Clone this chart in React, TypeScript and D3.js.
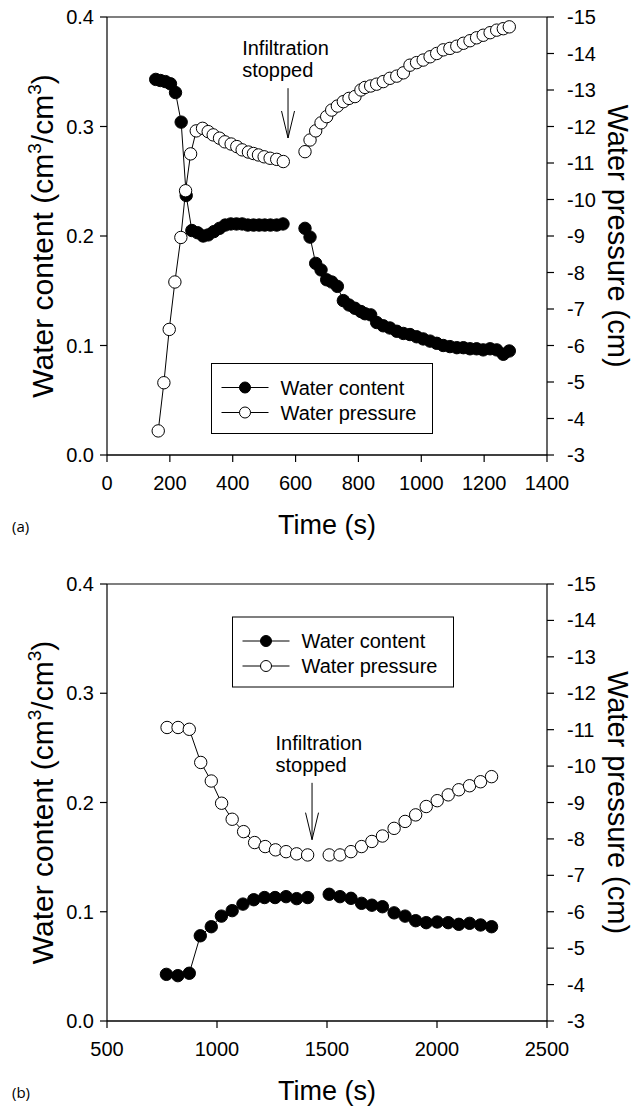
import React from "react";
import * as d3 from "d3";

// ---------- Panel (a) data ----------
const aContentTimeBefore = [155,170,186,202,218,236,252,270,288,306,322,340,358,376,394,412,430,448,466,484,502,520,540,560];
const aContentBefore = [0.343,0.342,0.341,0.339,0.331,0.304,0.237,0.205,0.203,0.200,0.201,0.204,0.207,0.210,0.211,0.211,0.211,0.210,0.210,0.210,0.210,0.210,0.210,0.211];
const aPressureTimeBefore = [163,181,198,216,235,250,266,284,304,322,338,358,375,395,413,430,450,466,482,500,519,540,561];
const aPressureBefore = [-3.66,-4.98,-6.44,-7.74,-8.96,-10.24,-11.25,-11.88,-11.95,-11.86,-11.77,-11.68,-11.58,-11.52,-11.45,-11.36,-11.30,-11.26,-11.22,-11.17,-11.13,-11.10,-11.04];
const aTimeAfter = [630,646,664,681,699,715,733,752,770,789,808,821,839,858,879,900,922,943,964,985,1006,1028,1049,1070,1091,1113,1134,1155,1176,1197,1219,1240,1261,1280];
const aContentAfter = [0.207,0.199,0.175,0.169,0.160,0.158,0.154,0.141,0.137,0.134,0.131,0.129,0.128,0.121,0.118,0.116,0.113,0.111,0.110,0.108,0.106,0.104,0.102,0.100,0.099,0.098,0.098,0.097,0.097,0.096,0.097,0.096,0.092,0.095];
const aPressureAfter = [-11.31,-11.63,-11.88,-12.10,-12.27,-12.45,-12.56,-12.68,-12.77,-12.82,-13.00,-13.07,-13.11,-13.16,-13.23,-13.32,-13.38,-13.47,-13.68,-13.75,-13.82,-13.91,-14.00,-14.10,-14.14,-14.20,-14.28,-14.35,-14.43,-14.50,-14.57,-14.64,-14.68,-14.73];

// ---------- Panel (b) data ----------
const bContentTimeBefore = [770,822,874,924,974,1020,1069,1118,1167,1216,1264,1314,1362,1412];
const bContentBefore = [0.0427,0.0415,0.0437,0.078,0.0863,0.096,0.101,0.107,0.111,0.113,0.113,0.1138,0.112,0.113];
const bPressureTimeBefore = [773,823,874,926,974,1021,1069,1121,1171,1219,1266,1314,1362,1412];
const bPressureBefore = [-11.06,-11.06,-11.01,-10.10,-9.59,-8.98,-8.54,-8.20,-7.90,-7.79,-7.70,-7.65,-7.59,-7.56];
const bTimeAfter = [1510,1559,1609,1657,1704,1752,1805,1855,1903,1951,2001,2051,2099,2148,2198,2248];
const bContentAfter = [0.116,0.1138,0.1123,0.1077,0.106,0.1046,0.099,0.096,0.0918,0.090,0.0906,0.090,0.0885,0.0894,0.0879,0.0863];
const bPressureAfter = [-7.56,-7.56,-7.65,-7.79,-7.93,-8.08,-8.29,-8.48,-8.66,-8.89,-9.05,-9.21,-9.35,-9.46,-9.57,-9.71];

// ---------- Axes ----------
const contentTicks = [0.0, 0.1, 0.2, 0.3, 0.4];
const pressureTicks = [-3,-4,-5,-6,-7,-8,-9,-10,-11,-12,-13,-14,-15];
const aTimeTicks = [0,200,400,600,800,1000,1200,1400];
const bTimeTicks = [500,1000,1500,2000,2500];
const seriesNames = ["Water content", "Water pressure"];
const annotationLines = ["Infiltration", "stopped"];

const FONT = "'Liberation Sans', Arial, Helvetica, sans-serif";

type Seg = { t: number[]; v: number[] };

function zip(s: Seg) {
  return s.t.map((t, i) => [t, s.v[i]] as [number, number]);
}

function Panel(props: {
  top: number; bottom: number; xDomain: [number, number]; xTicks: number[];
  content: Seg[]; pressure: Seg[];
  legendX: number; legendY: number;
  arrowT: number; arrowTop: number; arrowTip: number; textT: number;
  label: string;
}) {
  const L = 107, R = 547;
  const { top, bottom } = props;
  const x = d3.scaleLinear().domain(props.xDomain).range([L, R]);
  const yc = d3.scaleLinear().domain([0, 0.4]).range([bottom, top]);
  const yp = d3.scaleLinear().domain([-3, -15]).range([bottom, top]);
  const lineC = d3.line<[number, number]>().x(d => x(d[0])).y(d => yc(d[1]));
  const lineP = d3.line<[number, number]>().x(d => x(d[0])).y(d => yp(d[1]));
  const r = 6.2;
  const ax = x(props.arrowT);
  const aTop = yc(props.arrowTop);
  const aTip = yc(props.arrowTip);
  const tx = x(props.textT);
  const lgW = 221, lgH = 70;
  const mid = (L + R) / 2;
  const cy = (top + bottom) / 2;
  return (
    <g fontFamily={FONT} fill="#000">
      {/* frame */}
      <line x1={L} x2={R} y1={top} y2={top} stroke="#000" strokeWidth={1.2} />
      <line x1={L} x2={L} y1={top} y2={bottom} stroke="#000" strokeWidth={1.2} />
      <line x1={R} x2={R} y1={top} y2={bottom} stroke="#000" strokeWidth={1.2} />
      <line x1={L} x2={R} y1={bottom} y2={bottom} stroke="#000" strokeWidth={1.4} />
      {/* left ticks */}
      {contentTicks.map(t => (
        <g key={"c" + t}>
          <line x1={L - 7} x2={L} y1={yc(t)} y2={yc(t)} stroke="#000" strokeWidth={1.2} />
          <text x={L - 13} y={yc(t) + 7} textAnchor="end" fontSize={20}>{t.toFixed(1)}</text>
        </g>
      ))}
      {/* right ticks */}
      {pressureTicks.map(t => (
        <g key={"p" + t}>
          <line x1={R} x2={R + 7} y1={yp(t)} y2={yp(t)} stroke="#000" strokeWidth={1.2} />
          <text x={R + 20} y={yp(t) + 7} textAnchor="start" fontSize={20}>{String(t)}</text>
        </g>
      ))}
      {/* bottom ticks */}
      {props.xTicks.map(t => (
        <g key={"x" + t}>
          <line x1={x(t)} x2={x(t)} y1={bottom} y2={bottom + 7} stroke="#000" strokeWidth={1.2} />
          <text x={x(t)} y={bottom + 35} textAnchor="middle" fontSize={20}>{String(t)}</text>
        </g>
      ))}
      {/* axis titles */}
      <text transform={`translate(53,${cy}) rotate(-90)`} textAnchor="middle" fontSize={30}>
        Water content (cm<tspan dy={-12} fontSize={19}>3</tspan><tspan dy={12}>/cm</tspan><tspan dy={-12} fontSize={19}>3</tspan><tspan dy={12}>)</tspan>
      </text>
      <text transform={`translate(608,${cy}) rotate(90)`} textAnchor="middle" fontSize={29}>
        Water pressure (cm)
      </text>
      <text x={mid} y={bottom + 79} textAnchor="middle" fontSize={27}>Time (s)</text>
      <text x={12} y={bottom + 77} fontFamily="'Open Sans', sans-serif" fontSize={15}>{props.label}</text>

      {/* series: water content */}
      {props.content.map((s, i) => (
        <path key={"lc" + i} d={lineC(zip(s)) || ""} fill="none" stroke="#000" strokeWidth={1} />
      ))}
      {props.content.map((s, i) => zip(s).map((d, j) => (
        <circle key={"mc" + i + "_" + j} cx={x(d[0])} cy={yc(d[1])} r={r} fill="#000" stroke="#000" strokeWidth={1} />
      )))}
      {/* series: water pressure */}
      {props.pressure.map((s, i) => (
        <path key={"lp" + i} d={lineP(zip(s)) || ""} fill="none" stroke="#000" strokeWidth={1} />
      ))}
      {props.pressure.map((s, i) => zip(s).map((d, j) => (
        <circle key={"mp" + i + "_" + j} cx={x(d[0])} cy={yp(d[1])} r={r} fill="#fff" stroke="#000" strokeWidth={1} />
      )))}

      {/* annotation */}
      <text x={tx} y={aTop - 33} fontSize={20}>{annotationLines[0]}</text>
      <text x={tx} y={aTop - 11} fontSize={20}>{annotationLines[1]}</text>
      <line x1={ax} x2={ax} y1={aTop} y2={aTip} stroke="#000" strokeWidth={1} />
      <polyline points={`${ax - 6.5},${aTip - 27} ${ax},${aTip} ${ax + 6.5},${aTip - 27}`} fill="none" stroke="#000" strokeWidth={1} />

      {/* legend */}
      <rect x={props.legendX} y={props.legendY} width={lgW} height={lgH} fill="#fff" stroke="#000" strokeWidth={1} />
      {seriesNames.map((n, i) => {
        const ry = props.legendY + 24 + i * 25;
        return (
          <g key={n}>
            <line x1={props.legendX + 10} x2={props.legendX + 57} y1={ry} y2={ry} stroke="#000" strokeWidth={1} />
            <circle cx={props.legendX + 33.5} cy={ry} r={5.5} fill={i === 0 ? "#000" : "#fff"} stroke="#000" strokeWidth={1} />
            <text x={props.legendX + 69} y={ry + 7} fontSize={20}>{n}</text>
          </g>
        );
      })}
    </g>
  );
}

export default function App() {
  return (
    <svg width={638} height={1108} style={{ position: "absolute", left: 0, top: 0, background: "#fff" }}>
      <rect width={638} height={1108} fill="#fff" />
      <Panel
        top={17} bottom={455} xDomain={[0, 1400]} xTicks={aTimeTicks}
        content={[{ t: aContentTimeBefore, v: aContentBefore }, { t: aTimeAfter, v: aContentAfter }]}
        pressure={[{ t: aPressureTimeBefore, v: aPressureBefore }, { t: aTimeAfter, v: aPressureAfter }]}
        legendX={211.5} legendY={363.5}
        arrowT={576} arrowTop={0.335} arrowTip={0.2895} textT={430}
        label="(a)"
      />
      <Panel
        top={584} bottom={1021} xDomain={[500, 2500]} xTicks={bTimeTicks}
        content={[{ t: bContentTimeBefore, v: bContentBefore }, { t: bTimeAfter, v: bContentAfter }]}
        pressure={[{ t: bPressureTimeBefore, v: bPressureBefore }, { t: bTimeAfter, v: bPressureAfter }]}
        legendX={232.5} legendY={617}
        arrowT={1432} arrowTop={0.218} arrowTip={0.166} textT={1266}
        label="(b)"
      />
    </svg>
  );
}
